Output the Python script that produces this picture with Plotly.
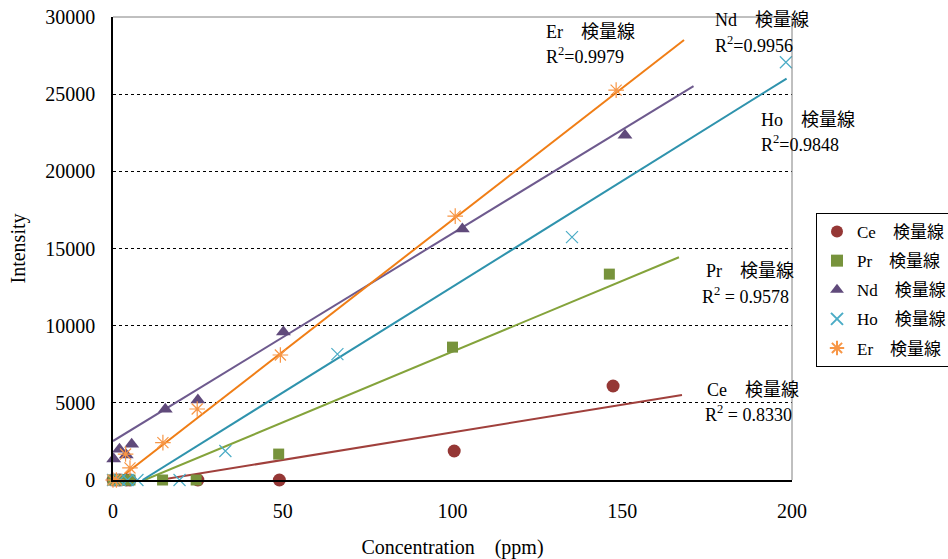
import plotly.graph_objects as go

# ---- data ----
ce_x = [0, 1, 2, 4, 5, 25, 49, 100.5, 147.3]
ce_y = [0, 0, 0, 0, 0, 0, 0, 1880, 6090]
pr_x = [0, 1, 2, 4, 5, 14.6, 24.5, 48.8, 100, 146.2]
pr_y = [0, 0, 0, 0, 0, 0, 0, 1680, 8610, 13340]
nd_x = [0.2, 1.9, 3.9, 5.5, 15.4, 25, 50.2, 102.9, 150.8]
nd_y = [1360, 2000, 1620, 2310, 4580, 5180, 9590, 16260, 22340]
ho_x = [0, 1, 2, 4.3, 7.2, 19.6, 33.1, 66.1, 135.2, 198.2]
ho_y = [0, 0, 0, 0, 0, 0, 1880, 8160, 15740, 27070]
er_x = [0, 1, 3.7, 5, 14.7, 24.8, 49.3, 100.8, 148.2]
er_y = [0, 0, 1680, 780, 2420, 4600, 8100, 17100, 25260]

# trendlines: slope, intercept, x-start, x-end
fits = {
    "Ce": (35.8, -490, 13.7, 167.6),
    "Pr": (91.7, -853, 9.3, 166.7),
    "Nd": (134.5, 2525, 0.0, 171.0),
    "Ho": (137.1, -1193, 8.7, 198.4),
    "Er": (170.8, -222, 1.3, 168.2),
}
r2 = {"Er": "R<sup>2</sup>=0.9979", "Nd": "R<sup>2</sup>=0.9956", "Ho": "R<sup>2</sup>=0.9848",
      "Pr": "R<sup>2</sup> = 0.9578", "Ce": "R<sup>2</sup> = 0.8330"}
x_ticks = [0, 50, 100, 150, 200]
y_ticks = [0, 5000, 10000, 15000, 20000, 25000, 30000]

FONT = "'Liberation Serif', 'Times New Roman', 'Noto Sans CJK JP', serif"

series = [
    ("Ce", ce_x, ce_y, dict(symbol="circle", size=13, color="#953735"), "#A0403C"),
    ("Pr", pr_x, pr_y, dict(symbol="square", size=11, color="#77933C"), "#84A33B"),
    ("Nd", nd_x, nd_y, dict(symbol="triangle-up", size=13, color="#604A7B"), "#6E5A8E"),
    ("Ho", ho_x, ho_y, dict(symbol="x-thin", size=12, color="#4BACC6",
                              line=dict(color="#4BACC6", width=1.2)), "#2F93AD"),
    ("Er", er_x, er_y, dict(symbol="asterisk-open", size=13, color="#F79646",
                              line=dict(color="#F79646", width=1.2)), "#F07E16"),
]

fig = go.Figure()
for name, xs, ys, mk, lc in series:
    s, b, x0, x1 = fits[name]
    fig.add_trace(go.Scatter(x=[x0, x1], y=[s * x0 + b, s * x1 + b], mode="lines",
                             line=dict(color=lc, width=2), showlegend=False,
                             hoverinfo="skip", cliponaxis=False))
for name, xs, ys, mk, lc in series:
    fig.add_trace(go.Scatter(x=xs, y=ys, mode="markers", marker=mk, legendgroup=name,
                             name=name + "　検量線", cliponaxis=False))

# plot area in page pixels
L, R, T, B = 113, 792, 17, 480
W, H = R - L, B - T


def px(x):
    return (x - L) / W


def py(y):
    return (B - y) / H


ann_pos = {
    "Er": (544, 32, 544, 55),
    "Nd": (713, 20, 713, 44),
    "Ho": (759, 120, 759, 143),
    "Pr": (704, 271, 700, 295),
    "Ce": (705, 390, 703, 413),
}
for name, (tx, ty, rx, ry) in ann_pos.items():
    fig.add_annotation(x=px(tx), y=py(ty), xref="paper", yref="paper",
                       text=name + "　検量線", showarrow=False, xanchor="left",
                       yanchor="middle", font=dict(size=18, color="black", family=FONT))
    fig.add_annotation(x=px(rx), y=py(ry), xref="paper", yref="paper",
                       text=r2[name], showarrow=False, xanchor="left",
                       yanchor="middle", font=dict(size=18, color="black", family=FONT))

# top/right gray frame
fig.add_shape(type="line", xref="paper", yref="paper", x0=0, x1=1, y0=1, y1=1,
              line=dict(color="#808080", width=1))
fig.add_shape(type="line", xref="paper", yref="paper", x0=1, x1=1, y0=0, y1=1,
              line=dict(color="#808080", width=1))

FW, FH = 948, 559
fig.update_layout(
    width=FW, height=FH,
    margin=dict(l=L, r=FW - R, t=T, b=FH - B, autoexpand=False),
    paper_bgcolor="white", plot_bgcolor="white",
    font=dict(family=FONT, size=18, color="black"),
    showlegend=True,
    legend=dict(x=px(816), y=py(213), xanchor="left", yanchor="top",
                bordercolor="black", borderwidth=1, bgcolor="white",
                font=dict(size=17, family=FONT), itemsizing="constant",
                itemwidth=30, tracegroupgap=4, traceorder="grouped"),
    xaxis=dict(range=[0, 200], tickvals=x_ticks, ticktext=[str(v) for v in x_ticks],
               showgrid=False, zeroline=False, automargin=False,
               showline=True, linecolor="black", linewidth=1.5, ticks="",
               ticklabelstandoff=12, ticklabeloverflow="allow",
               tickfont=dict(size=20, family=FONT),
               title=dict(text="Concentration　(ppm)", standoff=20,
                          font=dict(size=20, family=FONT))),
    yaxis=dict(range=[0, 30000], tickvals=y_ticks, ticktext=[str(v) for v in y_ticks],
               showgrid=True, gridcolor="black", automargin=False,
               griddash="dot", gridwidth=1, zeroline=False, showline=True,
               linecolor="black", linewidth=1.5, ticks="", ticklabelstandoff=12,
               ticklabeloverflow="allow",
               tickfont=dict(size=20, family=FONT),
               title=dict(text="Intensity", standoff=14, font=dict(size=20, family=FONT))),
)

fig.write_html(
    "out.html",
    config={"displayModeBar": False},
    post_script="document.body.style.margin='0';document.body.style.overflow='hidden';",
)
